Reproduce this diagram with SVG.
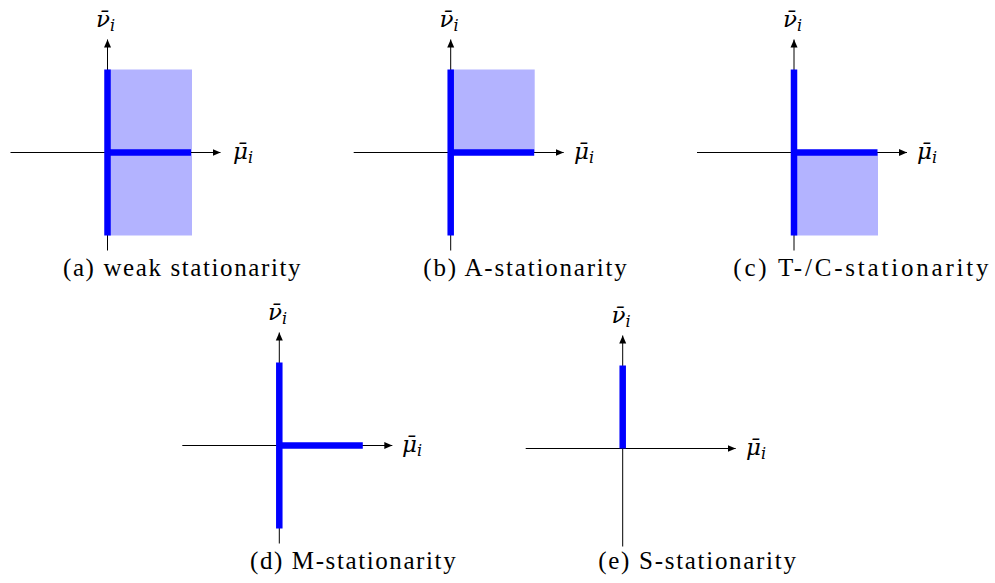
<svg xmlns="http://www.w3.org/2000/svg" width="995" height="583" viewBox="0 0 995 583">
<style>
.ax{stroke:#000;stroke-width:1;fill:none}
.bl{stroke:#0000ff;stroke-width:6.5;fill:none}
.sh{fill:#b3b3ff;stroke:none}
</style>
<defs>
<marker id="arr" markerUnits="userSpaceOnUse" markerWidth="10" markerHeight="8" refX="8" refY="4" orient="auto">
<path d="M0,0.5 L8,4 L0,7.5 Z" fill="#000"/>
</marker>
</defs>
<g id="panel-a">
<rect class="sh" x="107.5" y="69.5" width="84.5" height="166"/>
<line class="ax" x1="10.5" y1="152.5" x2="220.5" y2="152.5" marker-end="url(#arr)"/>
<line class="ax" x1="107.5" y1="250.5" x2="107.5" y2="39.5" marker-end="url(#arr)"/>
<line class="bl" x1="107.5" y1="69.5" x2="107.5" y2="235.5"/>
<line class="bl" x1="107.5" y1="152.5" x2="191" y2="152.5"/>
<text font-family="DejaVu Serif" font-style="italic" font-size="23" x="96" y="27">ν̄<tspan font-size="16" dy="4">i</tspan></text>
<text font-family="DejaVu Serif" font-style="italic" font-size="23" x="233" y="159">μ̄<tspan font-size="16" dy="4">i</tspan></text>
<text font-family="Liberation Serif" font-size="25" letter-spacing="1.6" x="63" y="276">(a) weak stationarity</text>
</g>
<g id="panel-b">
<rect class="sh" x="450.7" y="69.5" width="84" height="83"/>
<line class="ax" x1="353.7" y1="152.5" x2="563.7" y2="152.5" marker-end="url(#arr)"/>
<line class="ax" x1="450.7" y1="250.5" x2="450.7" y2="39.5" marker-end="url(#arr)"/>
<line class="bl" x1="450.7" y1="69.5" x2="450.7" y2="235.5"/>
<line class="bl" x1="450.7" y1="152.5" x2="534.2" y2="152.5"/>
<text font-family="DejaVu Serif" font-style="italic" font-size="23" x="439.5" y="27">ν̄<tspan font-size="16" dy="4">i</tspan></text>
<text font-family="DejaVu Serif" font-style="italic" font-size="23" x="574" y="159">μ̄<tspan font-size="16" dy="4">i</tspan></text>
<text font-family="Liberation Serif" font-size="25" letter-spacing="1.8" x="423.3" y="276">(b) A-stationarity</text>
</g>
<g id="panel-c">
<rect class="sh" x="794" y="152.5" width="84" height="83"/>
<line class="ax" x1="697" y1="152.5" x2="907" y2="152.5" marker-end="url(#arr)"/>
<line class="ax" x1="794" y1="250.5" x2="794" y2="39.5" marker-end="url(#arr)"/>
<line class="bl" x1="794" y1="69.5" x2="794" y2="235.5"/>
<line class="bl" x1="794" y1="152.5" x2="877.5" y2="152.5"/>
<text font-family="DejaVu Serif" font-style="italic" font-size="23" x="783" y="27">ν̄<tspan font-size="16" dy="4">i</tspan></text>
<text font-family="DejaVu Serif" font-style="italic" font-size="23" x="917" y="159">μ̄<tspan font-size="16" dy="4">i</tspan></text>
<text font-family="Liberation Serif" font-size="25" letter-spacing="2.8" x="733.3" y="276">(c) T-/C-stationarity</text>
</g>
<g id="panel-d">
<line class="ax" x1="182.3" y1="445.5" x2="392.3" y2="445.5" marker-end="url(#arr)"/>
<line class="ax" x1="279.3" y1="543.5" x2="279.3" y2="332.5" marker-end="url(#arr)"/>
<line class="bl" x1="279.3" y1="362.5" x2="279.3" y2="528.5"/>
<line class="bl" x1="279.3" y1="445.5" x2="362.8" y2="445.5"/>
<text font-family="DejaVu Serif" font-style="italic" font-size="23" x="268" y="320">ν̄<tspan font-size="16" dy="4">i</tspan></text>
<text font-family="DejaVu Serif" font-style="italic" font-size="23" x="402" y="452">μ̄<tspan font-size="16" dy="4">i</tspan></text>
<text font-family="Liberation Serif" font-size="25" letter-spacing="1.6" x="250" y="569">(d) M-stationarity</text>
</g>
<g id="panel-e">
<line class="ax" x1="525.7" y1="448.5" x2="735.7" y2="448.5" marker-end="url(#arr)"/>
<line class="ax" x1="622.7" y1="546.5" x2="622.7" y2="335.5" marker-end="url(#arr)"/>
<line class="bl" x1="622.7" y1="365.5" x2="622.7" y2="448.5"/>
<text font-family="DejaVu Serif" font-style="italic" font-size="23" x="611.5" y="323">ν̄<tspan font-size="16" dy="4">i</tspan></text>
<text font-family="DejaVu Serif" font-style="italic" font-size="23" x="746" y="455">μ̄<tspan font-size="16" dy="4">i</tspan></text>
<text font-family="Liberation Serif" font-size="25" letter-spacing="1.7" x="598.3" y="569">(e) S-stationarity</text>
</g>
<g id="connectors"></g>
</svg>
